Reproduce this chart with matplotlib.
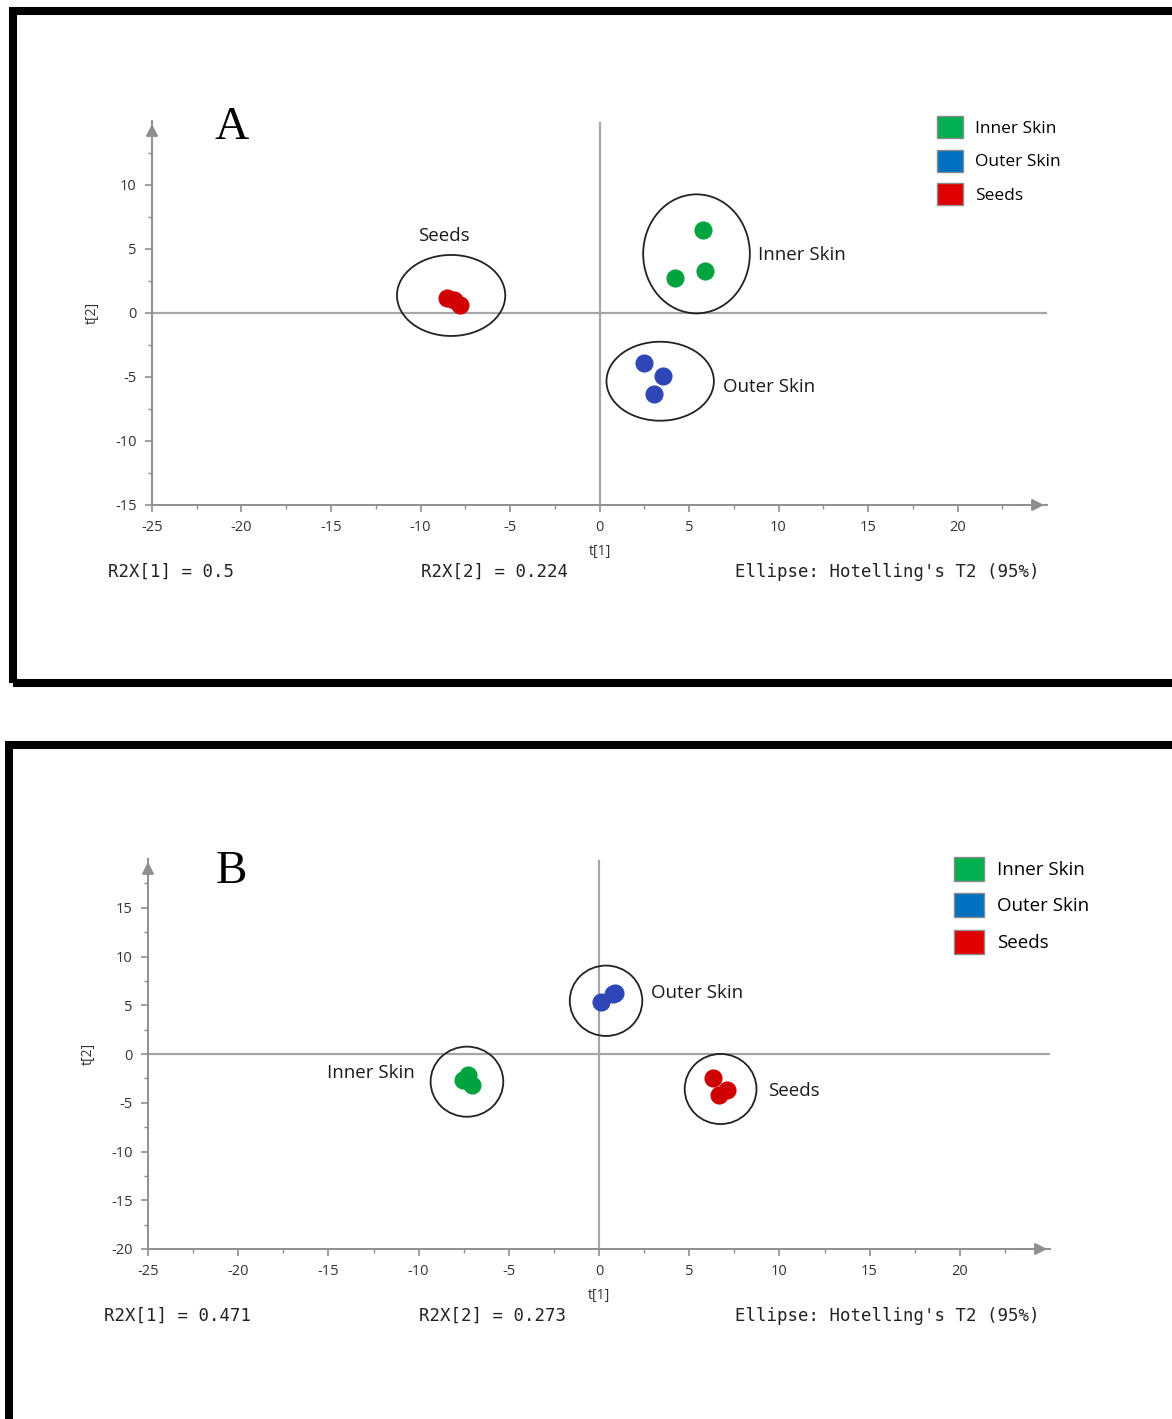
import numpy as np
import matplotlib
matplotlib.use("Agg")
import matplotlib.pyplot as plt
from matplotlib.patches import Ellipse, Rectangle, Patch

W, H = 1172, 1419

groups = ["Inner Skin", "Outer Skin", "Seeds"]
marker_colors = ["#00a33e", "#2f47b6", "#d10000"]
legend_colors = ["#00b050", "#0070c0", "#e00000"]

# ---- panel A scores ----
inner_a_t1 = [5.79, 5.88, 4.21]
inner_a_t2 = [6.48, 3.28, 2.76]
outer_a_t1 = [2.47, 3.56, 3.07]
outer_a_t2 = [-3.93, -4.90, -6.33]
seeds_a_t1 = [-8.51, -8.14, -7.80]
seeds_a_t2 = [1.15, 1.02, 0.63]
# ellipses: (t1, t2, width, height)
ell_a = [(5.42, 4.62, 5.96, 9.3), (3.39, -5.33, 6.0, 6.17), (-8.29, 1.37, 6.05, 6.33)]
r2x_a = ["0.5", "0.224"]

# ---- panel B scores ----
inner_b_t1 = [-7.24, -7.52, -7.06]
inner_b_t2 = [-2.16, -2.67, -3.18]
outer_b_t1 = [0.12, 0.91, 0.80]
outer_b_t2 = [5.37, 6.29, 6.20]
seeds_b_t1 = [6.30, 7.09, 6.63]
seeds_b_t2 = [-2.50, -3.70, -4.21]
ell_b = [(-7.32, -2.84, 4.03, 7.19), (0.39, 5.46, 4.02, 7.22), (6.74, -3.59, 3.98, 7.19)]
r2x_b = ["0.471", "0.273"]

plt.rcParams['font.family'] = ['Open Sans', 'DejaVu Sans']
plt.rcParams['axes.unicode_minus'] = False

fig = plt.figure(figsize=(W / 100, H / 100), dpi=100)


def fx(px):
    return px / W


def fy(py):
    return 1 - py / H


AXIS_GRAY = "#8f8f8f"


def draw_panel(box, ylim, yticks, pts, ells, labels, letter, letter_xy, r2x, text_y,
               leg_xy, leg_fs, leg_hl, leg_hh, leg_ls, x_r2, ylabel_x):
    left, top, right, bottom = box
    ax = fig.add_axes([fx(left), fy(bottom), fx(right - left), (bottom - top) / H])
    ax.set_xlim(-25, 25)
    ax.set_ylim(*ylim)
    for s in ["top", "right"]:
        ax.spines[s].set_visible(False)
    for s in ["left", "bottom"]:
        ax.spines[s].set_color(AXIS_GRAY)
        ax.spines[s].set_linewidth(1.4)
    ax.set_xticks(np.arange(-25, 21, 5))
    ax.set_yticks(yticks)
    ax.set_xticks(np.arange(-22.5, 25, 5), minor=True)
    ax.set_yticks(np.arange(ylim[0] + 2.5, ylim[1], 5), minor=True)
    ax.tick_params(which="major", direction="out", length=5, width=1.2, color=AXIS_GRAY,
                   labelsize=10.5, labelcolor="#333333", pad=6)
    ax.tick_params(which="minor", direction="out", length=3, width=1.0, color=AXIS_GRAY)

    # arrows at axis ends
    ax.annotate("", xy=(1.0, 0), xytext=(0.96, 0), xycoords="axes fraction",
                arrowprops=dict(arrowstyle="-|>", color=AXIS_GRAY, lw=1.4, mutation_scale=18))
    ax.annotate("", xy=(0, 1.0), xytext=(0, 0.95), xycoords="axes fraction",
                arrowprops=dict(arrowstyle="-|>", color=AXIS_GRAY, lw=1.4, mutation_scale=18))

    ax.axhline(0, color="#a6a6a6", lw=1.6, zorder=1)
    ax.axvline(0, color="#a6a6a6", lw=1.6, zorder=1, ymax=0.995)

    for (t1, t2), c in zip(pts, marker_colors):
        ax.scatter(t1, t2, s=150, color=c, edgecolor=c, linewidth=0.8, zorder=3)

    for (cx, cy, w, h) in ells:
        ax.add_patch(Ellipse((cx, cy), w, h, fill=False, edgecolor="#222222", lw=1.3, zorder=4))

    for txt, (lx, ly), ha in labels:
        ax.text(lx, ly, txt, ha=ha, va="center", fontsize=13.5, color="#1a1a1a")

    ax.set_xlabel("t[1]", fontsize=10, color="#333333", labelpad=6)
    ax.set_ylabel("t[2]", fontsize=10, color="#333333")
    ax.yaxis.set_label_coords((ylabel_x - left) / (right - left), 0.5)

    fig.text(fx(letter_xy[0]), fy(letter_xy[1]), letter, ha="center", va="center",
             fontsize=34, family="Liberation Serif")

    mono = dict(fontsize=12.5, family="DejaVu Sans Mono", va="center", color="#222222")
    fig.text(fx(x_r2[0]), fy(text_y), "R2X[1] = " + r2x[0], ha="left", **mono)
    fig.text(fx(x_r2[1]), fy(text_y), "R2X[2] = " + r2x[1], ha="left", **mono)
    fig.text(fx(x_r2[2]), fy(text_y), "Ellipse: Hotelling's T2 (95%)", ha="left", **mono)

    handles = [Patch(facecolor=c, edgecolor="#8a8a8a", lw=1) for c in legend_colors]
    fig.legend(handles, groups, loc="upper left", bbox_to_anchor=(fx(leg_xy[0]), fy(leg_xy[1])),
               frameon=False, fontsize=leg_fs, handlelength=leg_hl, handleheight=leg_hh,
               labelspacing=leg_ls, handletextpad=0.7, borderpad=0, borderaxespad=0)
    return ax


# panel A
draw_panel(box=(152, 121, 1047, 505), ylim=(-15, 15), yticks=np.arange(-15, 11, 5),
           pts=[(inner_a_t1, inner_a_t2), (outer_a_t1, outer_a_t2), (seeds_a_t1, seeds_a_t2)],
           ells=ell_a,
           labels=[("Inner Skin", (8.88, 4.53), "left"),
                   ("Outer Skin", (6.89, -5.76), "left"),
                   ("Seeds", (-8.7, 6.0), "center")],
           letter="A", letter_xy=(232, 128), r2x=r2x_a, text_y=572,
           leg_xy=(937, 116), leg_fs=12.5, leg_hl=1.5, leg_hh=1.6, leg_ls=0.65,
           x_r2=(108, 421, 735), ylabel_x=100)

# panel B
draw_panel(box=(148, 859, 1050, 1249), ylim=(-20, 20), yticks=np.arange(-20, 16, 5),
           pts=[(inner_b_t1, inner_b_t2), (outer_b_t1, outer_b_t2), (seeds_b_t1, seeds_b_t2)],
           ells=ell_b,
           labels=[("Inner Skin", (-10.2, -1.98), "right"),
                   ("Outer Skin", (2.89, 6.23), "left"),
                   ("Seeds", (9.37, -3.77), "left")],
           letter="B", letter_xy=(231, 872), r2x=r2x_b, text_y=1316,
           leg_xy=(954, 857), leg_fs=13.5, leg_hl=1.6, leg_hh=1.6, leg_ls=0.65,
           x_r2=(104, 419, 735), ylabel_x=96)

# thick black frames around each panel
fig.add_artist(Rectangle((fx(13), fy(683)), fx(1300), (683 - 11) / H, fill=False,
                         edgecolor="black", lw=5.8, transform=fig.transFigure))
fig.add_artist(Rectangle((fx(9), fy(1500)), fx(1300), (1500 - 745) / H, fill=False,
                         edgecolor="black", lw=5.8, transform=fig.transFigure))

fig.savefig("out.png", dpi=100)
